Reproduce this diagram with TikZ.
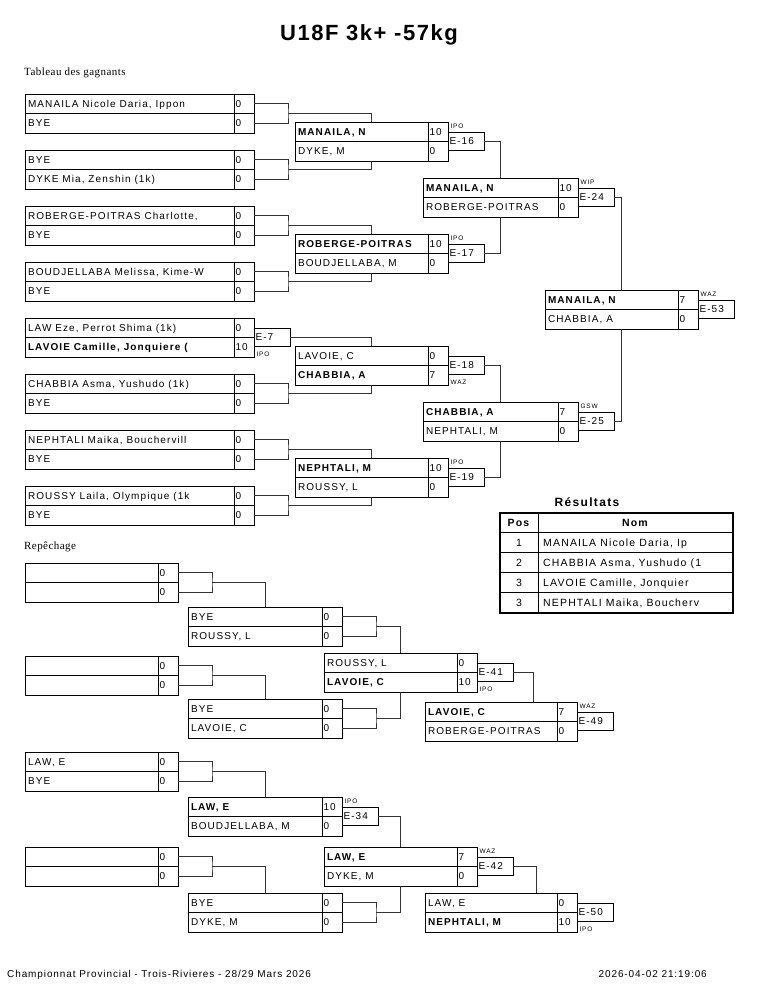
\documentclass[tikz,border=0pt]{standalone}
\usepackage{fontspec}
\newfontfamily\bx[LetterSpace=11]{Liberation Sans}
\newfontfamily\ft[LetterSpace=9]{Liberation Sans}
\newfontfamily\ttl[LetterSpace=7]{Liberation Sans}
\newfontfamily\srf[LetterSpace=4]{Liberation Serif}
\usetikzlibrary{calc}
\tikzset{
  cell/.style={draw=black, line width=0.8pt, rectangle, outer sep=0pt, inner xsep=3pt, inner ysep=0pt,
    minimum height=19.5pt, text height=8pt, text depth=1.5pt, font=\bx\fontsize{10}{12}\selectfont},
  scorecell/.style={cell, inner xsep=1.5pt, minimum width=20pt},
  ebox/.style={cell, minimum height=18pt, minimum width=36pt, inner xsep=1.5pt},
  lbl/.style={inner sep=0pt, font=\bx\fontsize{6.5}{7}\selectfont},
  conn/.style={draw=black!80, line width=0.8pt},
  txt/.style={inner sep=0pt},
  tbl/.style={inner sep=0pt, font=\bx\fontsize{10.5}{12}\selectfont},
}
% match box: name, x, y, name width, top name, top score, bottom name, bottom score
\newcommand{\matchb}[8]{%
  \node[cell, anchor=north west, minimum width=#4pt] (#1a) at (#2,#3) {\makebox[\dimexpr#4pt-6pt\relax][l]{#5}};
  \node[cell, anchor=north west, minimum width=#4pt] (#1b) at (#1a.south west) {\makebox[\dimexpr#4pt-6pt\relax][l]{#7}};
  \node[scorecell, anchor=north west] (#1as) at (#1a.north east) {\makebox[17pt][l]{#6}};
  \node[scorecell, anchor=north west] (#1bs) at (#1b.north east) {\makebox[17pt][l]{#8}};
  \coordinate (#1n) at ($(#1a.north west)!0.5!(#1as.north east)$);
  \coordinate (#1s) at ($(#1b.south west)!0.5!(#1bs.south east)$);
  \coordinate (#1e) at (#1as.south east);
}
\newcommand{\brkt}[1]{%
  \coordinate (#1k) at ($(#1e)+(34,0)$);
  \draw[conn] (#1as.east) -| (#1k) |- (#1bs.east);
}
\newcommand{\ebx}[3]{\node[ebox, anchor=west] (#1) at (#2) {\makebox[33pt][l]{#3}};}
\newcommand{\elabA}[3]{\node[lbl, anchor=base west] (#1) at ($(#2.north west)+(2.5,-4.5)$) {#3};}
\newcommand{\elabB}[3]{\node[lbl, anchor=base west] (#1) at ($(#2.south west)+(2.5,9.5)$) {#3};}

\begin{document}
\begin{tikzpicture}[x=1pt, y=-1pt]
\useasboundingbox (0,0) rectangle (765,990);
\fill[white] (0,0) rectangle (765,990);

\node[txt, font=\ttl\bfseries\fontsize{22}{26}\selectfont] (title) at (369,35) {U18F 3k+ -57kg};
\node[txt, anchor=base west, font=\srf\fontsize{11}{13}\selectfont] (tg) at (24,75) {Tableau des gagnants};
\node[txt, anchor=base west, font=\srf\fontsize{11}{13}\selectfont] (rp) at (24,549) {Repêchage};

% ---------- winners bracket ----------
\matchb{m1}{25}{94}{209}{MANAILA Nicole Daria, Ippon}{0}{BYE}{0}
\matchb{m2}{25}{150}{209}{BYE}{0}{DYKE Mia, Zenshin (1k)}{0}
\matchb{m3}{25}{206}{209}{ROBERGE-POITRAS Charlotte,}{0}{BYE}{0}
\matchb{m4}{25}{262}{209}{BOUDJELLABA Melissa, Kime-W}{0}{BYE}{0}
\matchb{m5}{25}{318}{209}{LAW Eze, Perrot Shima (1k)}{0}{\textbf{LAVOIE Camille, Jonquiere (}}{10}
\matchb{m6}{25}{374}{209}{CHABBIA Asma, Yushudo (1k)}{0}{BYE}{0}
\matchb{m7}{25}{430}{209}{NEPHTALI Maika, Bouchervill}{0}{BYE}{0}
\matchb{m8}{25}{486}{209}{ROUSSY Laila, Olympique (1k}{0}{BYE}{0}

\matchb{w1}{295}{122}{133}{\textbf{MANAILA, N}}{10}{DYKE, M}{0}
\matchb{w2}{295}{234}{133}{\textbf{ROBERGE-POITRAS}}{10}{BOUDJELLABA, M}{0}
\matchb{w3}{295}{346}{133}{LAVOIE, C}{0}{\textbf{CHABBIA, A}}{7}
\matchb{w4}{295}{458}{133}{\textbf{NEPHTALI, M}}{10}{ROUSSY, L}{0}

\matchb{s1}{423}{178}{135}{\textbf{MANAILA, N}}{10}{ROBERGE-POITRAS}{0}
\matchb{s2}{423}{402}{135}{\textbf{CHABBIA, A}}{7}{NEPHTALI, M}{0}

\matchb{f}{545}{290}{133}{\textbf{MANAILA, N}}{7}{CHABBIA, A}{0}

\ebx{e7}{m5e}{E-7}
\ebx{e16}{w1e}{E-16}
\ebx{e17}{w2e}{E-17}
\ebx{e18}{w3e}{E-18}
\ebx{e19}{w4e}{E-19}
\ebx{e24}{s1e}{E-24}
\ebx{e25}{s2e}{E-25}
\ebx{e53}{fe}{E-53}

\elabB{l7}{e7}{IPO}
\elabA{l16}{e16}{IPO}
\elabA{l17}{e17}{IPO}
\elabB{l18}{e18}{WAZ}
\elabA{l19}{e19}{IPO}
\elabA{l24}{e24}{WIP}
\elabA{l25}{e25}{GSW}
\elabA{l53}{e53}{WAZ}

\brkt{m1}\brkt{m2}\brkt{m3}\brkt{m4}\brkt{m6}\brkt{m7}\brkt{m8}
\draw[conn] (m1k) -| (w1n);
\draw[conn] (m2k) -| (w1s);
\draw[conn] (m3k) -| (w2n);
\draw[conn] (m4k) -| (w2s);
\draw[conn] (e7.east) -| (w3n);
\draw[conn] (m6k) -| (w3s);
\draw[conn] (m7k) -| (w4n);
\draw[conn] (m8k) -| (w4s);
\draw[conn] (e16.east) -| (s1n);
\draw[conn] (e17.east) -| (s1s);
\draw[conn] (e18.east) -| (s2n);
\draw[conn] (e19.east) -| (s2s);
\draw[conn] (e24.east) -| (fn);
\draw[conn] (e25.east) -| (fs);

% ---------- results ----------
\node[txt, anchor=base, font=\bx\bfseries\fontsize{12}{14}\selectfont] (res) at (587,506) {Résultats};
\draw[line width=1.2pt] (500,513) rectangle (733,613);
\draw[line width=1pt] (500,532.5) -- (733,532.5);
\draw[line width=0.6pt] (500,552.5) -- (733,552.5) (500,572.5) -- (733,572.5) (500,592.5) -- (733,592.5) (538,513) -- (538,613);
\node[tbl, anchor=base] (tpos) at (519,526.2) {\textbf{Pos}};
\node[tbl, anchor=base] (tnom) at (635.5,526.2) {\textbf{Nom}};
\node[tbl, anchor=base] (p1) at (519,546.2) {1};
\node[tbl, anchor=base west] (n1) at (543,546.2) {MANAILA Nicole Daria, Ip};
\node[tbl, anchor=base] (p2) at (519,566.2) {2};
\node[tbl, anchor=base west] (n2) at (543,566.2) {CHABBIA Asma, Yushudo (1};
\node[tbl, anchor=base] (p3) at (519,586.2) {3};
\node[tbl, anchor=base west] (n3) at (543,586.2) {LAVOIE Camille, Jonquier};
\node[tbl, anchor=base] (p4) at (519,606.2) {3};
\node[tbl, anchor=base west] (n4) at (543,606.2) {NEPHTALI Maika, Boucherv};

% ---------- repechage ----------
\matchb{ra}{25}{563}{133}{}{0}{}{0}
\matchb{rb}{25}{656}{133}{}{0}{}{0}
\matchb{rc}{25}{752}{133}{LAW, E}{0}{BYE}{0}
\matchb{rd}{25}{847}{133}{}{0}{}{0}
\matchb{re}{188}{607}{134}{BYE}{0}{ROUSSY, L}{0}
\matchb{rf}{188}{699}{134}{BYE}{0}{LAVOIE, C}{0}
\matchb{rg}{188}{797}{134}{\textbf{LAW, E}}{10}{BOUDJELLABA, M}{0}
\matchb{rh}{188}{893}{134}{BYE}{0}{DYKE, M}{0}
\matchb{ri}{324}{653}{133}{ROUSSY, L}{0}{\textbf{LAVOIE, C}}{10}
\matchb{rj}{324}{847}{133}{\textbf{LAW, E}}{7}{DYKE, M}{0}
\matchb{rk}{425}{702}{132}{\textbf{LAVOIE, C}}{7}{ROBERGE-POITRAS}{0}
\matchb{rl}{425}{893}{132}{LAW, E}{0}{\textbf{NEPHTALI, M}}{10}

\ebx{e41}{rie}{E-41}
\ebx{e49}{rke}{E-49}
\ebx{e34}{rge}{E-34}
\ebx{e42}{rje}{E-42}
\ebx{e50}{rle}{E-50}
\elabB{l41}{e41}{IPO}
\elabA{l49}{e49}{WAZ}
\elabA{l34}{e34}{IPO}
\elabA{l42}{e42}{WAZ}
\elabB{l50}{e50}{IPO}

\brkt{ra}\brkt{rb}\brkt{rc}\brkt{rd}\brkt{re}\brkt{rf}\brkt{rh}
\draw[conn] (rak) -| (ren);
\draw[conn] (rbk) -| (rfn);
\draw[conn] (rck) -| (rgn);
\draw[conn] (rdk) -| (rhn);
\draw[conn] (rek) -| (rin);
\draw[conn] (rfk) -| (ris);
\draw[conn] (e34.east) -| (rjn);
\draw[conn] (rhk) -| (rjs);
\draw[conn] (e41.east) -- ++(20,0) coordinate (k41) -- (k41 |- rkn);
\draw[conn] (e42.east) -- ++(23,0) coordinate (k42) -- (k42 |- rln);

% ---------- footer ----------
\node[txt, anchor=base west, font=\ft\fontsize{10}{12}\selectfont] (foot1) at (7,977) {Championnat Provincial - Trois-Rivieres - 28/29 Mars 2026};
\node[txt, anchor=base east, font=\ft\fontsize{10}{12}\selectfont] (foot2) at (707,977) {2026-04-02 21:19:06};
\end{tikzpicture}
\end{document}
